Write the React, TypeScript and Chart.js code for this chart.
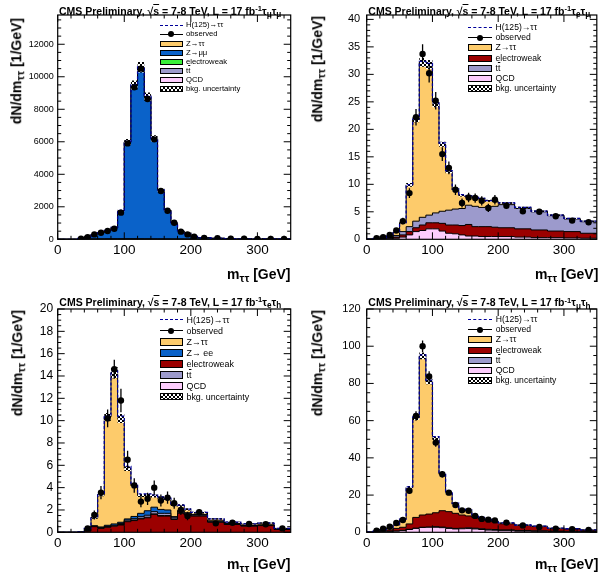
import React, { useEffect, useRef } from "react";
import { Chart, registerables } from "chart.js";

Chart.register(...registerables);

const FONT = "'Liberation Sans', Arial, Helvetica, sans-serif";

// ---------------- colours ----------------
const COL_ZTT = "#fdcb6b";
const COL_ZLL = "#0a62c9";
const COL_EWK = "#9b0000";
const COL_EWK_MM = "#39f039";
const COL_TT = "#9c9acc";
const COL_QCD = "#fdcdfd";
const COL_SIG = "#000099";

// ---------------- binning (GeV) ----------------
const EDGES_MM = [0, 10, 20, 30, 40, 50, 60, 70, 80, 90, 100, 110, 120, 130, 140, 150, 160, 170, 180, 190, 200, 210, 230, 250, 270, 290, 310, 330, 350];
const EDGES = [0, 10, 20, 30, 40, 50, 60, 70, 80, 90, 100, 110, 120, 130, 140, 150, 160, 170, 180, 190, 200, 225, 250, 275, 300, 325, 350];
const X_TICKS = [0, 100, 200, 300];
const X_MAX = 350;

// ---------------- panel 1 : tau_mu tau_mu ----------------
const MM_QCD = [0, 0, 0, 2, 4, 6, 8, 10, 10, 10, 10, 8, 6, 5, 4, 3, 3, 2, 2, 1, 1, 1, 1, 0, 0, 0, 0, 0];
const MM_TT = [0, 0, 0, 0, 1, 1, 2, 2, 3, 3, 4, 5, 6, 6, 6, 6, 5, 5, 4, 4, 3, 3, 2, 2, 1, 1, 1, 1];
const MM_EWK = [0, 0, 0, 1, 2, 3, 4, 5, 5, 6, 8, 10, 10, 9, 8, 7, 6, 5, 4, 3, 3, 2, 2, 1, 1, 1, 1, 1];
const MM_ZMM = [0, 0, 0, 40, 130, 280, 380, 500, 680, 1720, 5950, 9450, 10550, 8750, 6180, 3000, 1780, 1000, 500, 320, 170, 90, 60, 40, 30, 25, 20, 15];
const MM_ZTT = [0, 0, 0, 5, 10, 15, 20, 25, 30, 25, 20, 15, 10, 8, 6, 5, 4, 3, 2, 2, 1, 1, 1, 0, 0, 0, 0, 0];
const MM_SIG = [0, 0, 0, 0, 0, 1, 2, 4, 8, 15, 25, 30, 30, 25, 20, 12, 8, 5, 3, 2, 1, 1, 0, 0, 0, 0, 0, 0];
const MM_OBS = [null, null, null, 30, 130, 300, 400, 510, 650, 1640, 5900, 9350, 10500, 8630, 6150, 2970, 1760, 1020, 470, 300, 160, 90, 60, 40, 30, 25, 15, 15];
const MM_ERR = [0, 0, 0, 6, 11, 17, 20, 23, 26, 40, 77, 97, 102, 93, 78, 55, 42, 32, 22, 17, 13, 7, 5, 4, 4, 3, 3, 3];
const MM_UNC = [0, 0, 0, 2, 5, 10, 12, 15, 20, 50, 180, 280, 320, 260, 190, 100, 60, 35, 20, 12, 8, 5, 3, 2, 2, 1, 1, 1];
const MM_YTICKS = [0, 2000, 4000, 6000, 8000, 10000, 12000];

// ---------------- panel 2 : tau_e tau_mu ----------------
const EM_QCD = [0, 0.02, 0.05, 0.1, 0.2, 0.4, 0.8, 1.4, 1.6, 1.9, 1.9, 1.5, 1.1, 1.0, 0.8, 0.6, 0.6, 0.5, 0.5, 0.5, 0.5, 0.4, 0.3, 0.3, 0.25, 0.2];
const EM_EWK = [0.02, 0.03, 0.05, 0.1, 0.2, 0.4, 0.6, 0.7, 1.0, 1.1, 1.1, 1.4, 1.5, 1.6, 1.7, 2.1, 1.7, 1.8, 1.8, 1.7, 1.6, 1.5, 1.4, 1.2, 1.15, 0.9];
const EM_TT = [0.01, 0.05, 0.1, 0.15, 0.3, 0.6, 0.9, 1.2, 1.4, 1.4, 1.8, 2.2, 2.7, 2.9, 3.1, 3.5, 3.7, 3.5, 3.6, 3.8, 4.2, 3.7, 3.3, 2.8, 2.3, 2.1];
const EM_ZTT = [0.02, 0.05, 0.1, 0.25, 0.6, 1.6, 7.6, 18.5, 28.2, 27.4, 19.8, 12.2, 7.0, 3.5, 2.4, 1.6, 1.6, 1.6, 1.1, 1.0, 0.3, 0.2, 0.1, 0.1, 0.1, 0.1];
const EM_SIG = [0, 0, 0, 0, 0.01, 0.03, 0.06, 0.1, 0.15, 0.2, 0.22, 0.22, 0.2, 0.15, 0.12, 0.08, 0.06, 0.04, 0.03, 0.02, 0.02, 0.01, 0.01, 0, 0, 0];
const EM_OBS = [null, 0.2, 0.4, 0.8, 1.6, 3.3, 8.4, 22.2, 33.7, 30.2, 25.2, 15.5, 13.0, 9.0, 6.6, 7.6, 7.5, 7.0, 5.7, 7.2, 6.1, 5.1, 5.0, 4.2, 3.4, 3.1];
const EM_ERR = [0, 0.15, 0.2, 0.3, 0.4, 0.6, 0.9, 1.5, 1.8, 1.7, 1.6, 1.25, 1.15, 0.95, 0.8, 0.85, 0.85, 0.85, 0.75, 0.85, 0.5, 0.45, 0.45, 0.4, 0.37, 0.35];
const EM_UNC = [0.01, 0.02, 0.03, 0.05, 0.08, 0.15, 0.35, 0.5, 0.8, 0.8, 0.6, 0.45, 0.3, 0.25, 0.2, 0.2, 0.2, 0.18, 0.18, 0.18, 0.15, 0.13, 0.12, 0.1, 0.09, 0.08];
const EM_YTICKS = [0, 5, 10, 15, 20, 25, 30, 35, 40];

// ---------------- panel 3 : tau_e tau_h ----------------
const ET_EWK = [0, 0, 0, 0.02, 0.1, 0.5, 0.35, 0.45, 0.55, 0.65, 0.95, 1.05, 1.2, 1.3, 1.6, 1.45, 1.45, 1.15, 1.7, 1.55, 1.45, 0.9, 0.7, 0.55, 0.6, 0.25];
const ET_QCD = [0, 0, 0, 0, 0, 0.02, 0.03, 0.03, 0.03, 0.05, 0.05, 0.05, 0.05, 0.05, 0.05, 0.05, 0.05, 0.05, 0.05, 0.03, 0.03, 0.02, 0.02, 0.01, 0.01, 0.01];
const ET_TT = [0, 0, 0, 0, 0, 0.02, 0.03, 0.05, 0.05, 0.08, 0.1, 0.12, 0.15, 0.18, 0.2, 0.2, 0.2, 0.15, 0.15, 0.12, 0.1, 0.08, 0.05, 0.04, 0.04, 0.02];
const ET_ZEE = [0, 0, 0, 0, 0, 0.05, 0.07, 0.1, 0.12, 0.12, 0.1, 0.2, 0.3, 0.4, 0.4, 0.35, 0.3, 0.05, 0.05, 0.05, 0.03, 0.02, 0.02, 0.01, 0.01, 0.01];
const ET_ZTT = [0, 0, 0, 0, 0.25, 0.7, 2.9, 9.7, 13.55, 9.3, 4.5, 2.75, 1.6, 1.4, 1.0, 1.05, 1.0, 1.05, 0.45, 0.3, 0.15, 0.18, 0.11, 0.14, 0.17, 0.06];
const ET_SIG = [0, 0, 0, 0, 0, 0.02, 0.05, 0.1, 0.15, 0.2, 0.2, 0.2, 0.15, 0.12, 0.1, 0.08, 0.05, 0.04, 0.03, 0.02, 0.02, 0.01, 0.01, 0, 0, 0];
const ET_OBS = [null, null, null, null, 0.35, 1.55, 3.55, 10.2, 14.6, 11.8, 6.5, 4.2, 2.75, 3.0, 4.0, 2.85, 3.1, 2.6, 2.0, 1.45, 1.8, 0.8, 0.85, 0.75, 0.72, 0.35];
const ET_ERR = [0, 0, 0, 0, 0.2, 0.4, 0.6, 0.8, 0.85, 1.05, 0.8, 0.65, 0.5, 0.55, 0.63, 0.53, 0.55, 0.5, 0.45, 0.38, 0.27, 0.18, 0.18, 0.17, 0.17, 0.12];
const ET_UNC = [0, 0, 0, 0, 0.03, 0.08, 0.15, 0.35, 0.5, 0.4, 0.2, 0.15, 0.13, 0.13, 0.13, 0.13, 0.12, 0.12, 0.12, 0.1, 0.07, 0.06, 0.05, 0.04, 0.04, 0.02];
const ET_YTICKS = [0, 2, 4, 6, 8, 10, 12, 14, 16, 18, 20];

// ---------------- panel 4 : tau_mu tau_h ----------------
const MT_QCD = [0, 0.1, 0.3, 0.3, 0.6, 0.9, 1.5, 2.1, 2.6, 2.7, 2.7, 2.5, 2.1, 1.8, 1.9, 2.0, 1.8, 1.5, 1.2, 1.1, 0.9, 0.6, 0.5, 0.4, 0.3, 0.2];
const MT_TT = [0, 0.02, 0.03, 0.05, 0.05, 0.1, 0.1, 0.1, 0.1, 0.1, 0.3, 0.3, 0.3, 0.3, 0.3, 0.4, 0.4, 0.4, 0.4, 0.4, 0.4, 0.4, 0.3, 0.25, 0.2, 0.15];
const MT_EWK = [0.1, 0.3, 0.55, 0.85, 1.45, 1.7, 2.9, 5.8, 6.6, 7.0, 7.5, 8.8, 8.7, 8.1, 7.1, 6.4, 5.7, 5.1, 4.7, 4.2, 3.3, 2.7, 2.3, 1.35, 1.3, 0.75];
const MT_ZTT = [0.1, 0.3, 0.6, 1.3, 1.9, 4.3, 19.7, 53.6, 85.5, 71.2, 40.0, 19.6, 9.9, 4.8, 2.7, 2.8, 0.9, 0.9, 0.5, 0.3, 0.4, 0.2, 0.2, 0.2, 0.1, 0.2];
const MT_SIG = [0, 0, 0, 0, 0.05, 0.1, 0.2, 0.4, 0.6, 0.8, 0.9, 0.9, 0.8, 0.6, 0.4, 0.3, 0.2, 0.15, 0.1, 0.08, 0.05, 0.03, 0.02, 0.01, 0.01, 0];
const MT_OBS = [null, 0.8, 2.0, 3.0, 5.0, 6.6, 22.3, 62.5, 100.0, 83.7, 48.2, 31.2, 21.3, 14.7, 11.8, 11.6, 8.8, 7.2, 6.8, 6.4, 5.2, 3.7, 2.9, 2.0, 1.6, 1.3];
const MT_ERR = [0, 0.3, 0.45, 0.55, 0.7, 0.8, 1.5, 2.5, 3.1, 2.9, 2.2, 1.75, 1.45, 1.2, 1.1, 1.1, 0.95, 0.85, 0.8, 0.8, 0.45, 0.4, 0.35, 0.28, 0.25, 0.23];
const MT_UNC = [0.02, 0.05, 0.08, 0.1, 0.15, 0.25, 0.7, 1.2, 1.8, 1.5, 1.0, 0.7, 0.5, 0.4, 0.35, 0.35, 0.3, 0.25, 0.22, 0.2, 0.15, 0.12, 0.1, 0.08, 0.07, 0.05];
const MT_YTICKS = [0, 20, 40, 60, 80, 100, 120];

// ---------------- text helpers ----------------
const subS: React.CSSProperties = { fontSize: "0.78em", position: "relative", top: "0.3em", verticalAlign: "baseline", lineHeight: 0 };
const supS: React.CSSProperties = { fontSize: "0.72em", position: "relative", top: "-0.5em", verticalAlign: "baseline", lineHeight: 0 };
const Sub = ({ children }: any) => <span style={subS}>{children}</span>;
const Sup = ({ children }: any) => <span style={supS}>{children}</span>;
const Bar = ({ children }: any) => <span style={{ textDecoration: "overline" }}>{children}</span>;
const TTBAR = <>t<Bar>t</Bar></>;
const CHECKER_CSS = "repeating-conic-gradient(#000 0% 25%, #fff 0% 50%) 0 0 / 4px 4px";

type Entry = { kind: string; color?: string; label: any };

const E_SIG: Entry = { kind: "dash", label: <>H(125)→ττ</> };
const E_OBS: Entry = { kind: "marker", label: "observed" };
const E_ZTT: Entry = { kind: "box", color: COL_ZTT, label: "Z→ττ" };
const E_EWK: Entry = { kind: "box", color: COL_EWK, label: "electroweak" };
const E_TT: Entry = { kind: "box", color: COL_TT, label: TTBAR };
const E_QCD: Entry = { kind: "box", color: COL_QCD, label: "QCD" };
const E_UNC: Entry = { kind: "hatch", label: "bkg. uncertainty" };

const PANELS = [
  {
    left: 0, top: 0, w: 300, h: 290,
    area: { l: 57.7, t: 15, r: 290.7, b: 239.3 },
    edges: EDGES_MM,
    layers: [
      { values: MM_QCD, color: COL_QCD },
      { values: MM_TT, color: COL_TT },
      { values: MM_EWK, color: COL_EWK_MM },
      { values: MM_ZMM, color: COL_ZLL },
      { values: MM_ZTT, color: COL_ZTT },
    ],
    sig: MM_SIG, obs: MM_OBS, err: MM_ERR, unc: MM_UNC,
    yMax: 13800, yTicks: MM_YTICKS, yStep: 2000, yMinor: 500, yFont: 9, yPad: 4,
    chan: ["μ", "μ"],
    title: { x: 59, cy: 10.5 },
    ytitle: { x: 9.3, top: 17.5 },
    xtitle: { right: 290.5, cy: 274 },
    legend: {
      boxX: 159.5, boxW: 23, boxH: 6, textX: 186, y0: 25.3, dy: 9.15, font: 7.7,
      entries: [E_SIG, E_OBS, E_ZTT, { kind: "box", color: COL_ZLL, label: "Z→μμ" }, { kind: "box", color: COL_EWK_MM, label: "electroweak" }, E_TT, E_QCD, E_UNC],
    },
  },
  {
    left: 300, top: 0, w: 300, h: 290,
    area: { l: 66.7, t: 15, r: 299.3, b: 239.3 },
    edges: EDGES,
    layers: [
      { values: EM_QCD, color: COL_QCD },
      { values: EM_EWK, color: COL_EWK },
      { values: EM_TT, color: COL_TT },
      { values: EM_ZTT, color: COL_ZTT },
    ],
    sig: EM_SIG, obs: EM_OBS, err: EM_ERR, unc: EM_UNC,
    yMax: 40.8, yTicks: EM_YTICKS, yStep: 5, yMinor: 1, yFont: 11, yPad: 6.5,
    chan: ["e", "μ"],
    title: { x: 68.3, cy: 10.5 },
    ytitle: { x: 10, top: 16 },
    xtitle: { right: 298.3, cy: 274.5 },
    legend: {
      boxX: 168, boxW: 23.5, boxH: 7, textX: 195.5, y0: 27.5, dy: 10.2, font: 8.6,
      entries: [E_SIG, E_OBS, E_ZTT, E_EWK, E_TT, E_QCD, E_UNC],
    },
  },
  {
    left: 0, top: 290, w: 300, h: 291,
    area: { l: 57.7, t: 19, r: 290.7, b: 242.3 },
    edges: EDGES,
    layers: [
      { values: ET_EWK, color: COL_EWK },
      { values: ET_QCD, color: COL_QCD },
      { values: ET_TT, color: COL_TT },
      { values: ET_ZEE, color: COL_ZLL },
      { values: ET_ZTT, color: COL_ZTT },
    ],
    sig: ET_SIG, obs: ET_OBS, err: ET_ERR, unc: ET_UNC,
    yMax: 20, yTicks: ET_YTICKS, yStep: 2, yMinor: 0.5, yFont: 12, yPad: 4.5,
    chan: ["e", "h"],
    title: { x: 59.3, cy: 12 },
    ytitle: { x: 10, top: 20 },
    xtitle: { right: 290.5, cy: 274.5 },
    legend: {
      boxX: 159.5, boxW: 23, boxH: 7.5, textX: 186.5, y0: 30, dy: 10.96, font: 8.9,
      entries: [E_SIG, E_OBS, E_ZTT, { kind: "box", color: COL_ZLL, label: "Z→ ee" }, E_EWK, E_TT, E_QCD, E_UNC],
    },
  },
  {
    left: 300, top: 290, w: 300, h: 291,
    area: { l: 66.7, t: 19, r: 299.3, b: 242.3 },
    edges: EDGES,
    layers: [
      { values: MT_QCD, color: COL_QCD },
      { values: MT_TT, color: COL_TT },
      { values: MT_EWK, color: COL_EWK },
      { values: MT_ZTT, color: COL_ZTT },
    ],
    sig: MT_SIG, obs: MT_OBS, err: MT_ERR, unc: MT_UNC,
    yMax: 120, yTicks: MT_YTICKS, yStep: 20, yMinor: 5, yFont: 11, yPad: 6,
    chan: ["μ", "h"],
    title: { x: 68.3, cy: 12.3 },
    ytitle: { x: 10, top: 20 },
    xtitle: { right: 298.3, cy: 274.5 },
    legend: {
      boxX: 168, boxW: 23.5, boxH: 7, textX: 195.7, y0: 29.5, dy: 10.2, font: 8.6,
      entries: [E_SIG, E_OBS, E_ZTT, E_EWK, E_TT, E_QCD, E_UNC],
    },
  },
];

function makeChecker(): CanvasPattern | string {
  const c = document.createElement("canvas");
  c.width = 4;
  c.height = 4;
  const g = c.getContext("2d");
  if (!g) return "#000";
  g.fillStyle = "#fff";
  g.fillRect(0, 0, 4, 4);
  g.fillStyle = "#000";
  g.fillRect(0, 0, 2, 2);
  g.fillRect(2, 2, 2, 2);
  const pat = g.createPattern(c, "repeat");
  return pat || "#000";
}

function buildChart(canvas: HTMLCanvasElement, p: any) {
  const edges: number[] = p.edges;
  const n = edges.length - 1;
  const cums: number[][] = [];
  let run = new Array(n).fill(0);
  for (const L of p.layers) {
    run = run.map((v: number, i: number) => v + L.values[i]);
    cums.push(run);
  }
  const total = run;
  const step = (vals: number[]) => {
    const pts = vals.map((v, i) => ({ x: edges[i], y: v }));
    pts.push({ x: edges[n], y: vals[n - 1] });
    return pts;
  };
  const obsPts: any[] = [];
  const errs: any[] = [];
  p.obs.forEach((v: number | null, i: number) => {
    if (v == null) return;
    const c = (edges[i] + edges[i + 1]) / 2;
    obsPts.push({ x: c, y: v });
    errs.push({ x: c, lo: v - p.err[i], hi: v + p.err[i] });
  });

  const base = { stepped: true, pointRadius: 0, pointHoverRadius: 0 };
  const datasets: any[] = [
    {
      data: obsPts, showLine: false, pointRadius: 3.2, pointHoverRadius: 3.2,
      pointBackgroundColor: "#000", pointBorderColor: "#000", pointBorderWidth: 0, fill: false,
    },
    {
      ...base, data: step(total.map((v, i) => v + p.sig[i])),
      borderColor: COL_SIG, borderWidth: 1.3, borderDash: [3, 2], fill: false,
    },
    {
      ...base, data: step(total.map((v, i) => v + p.unc[i])),
      borderColor: "rgba(0,0,0,0)", borderWidth: 1, fill: "+1", backgroundColor: makeChecker(),
    },
    {
      ...base, data: step(total.map((v, i) => Math.max(0, v - p.unc[i]))),
      borderColor: "rgba(0,0,0,0)", borderWidth: 1, fill: false,
    },
    ...cums.map((c, k) => ({
      ...base, data: step(c), borderColor: "#000", borderWidth: 1,
      backgroundColor: p.layers[k].color, fill: "origin",
    })),
  ];

  const framePlugin = {
    id: "rootFrame",
    afterDraw(chart: any) {
      const { ctx, chartArea: a, scales } = chart;
      const xs = scales.x;
      const ys = scales.y;
      ctx.save();
      ctx.strokeStyle = "#000";
      ctx.lineWidth = 1;
      ctx.beginPath();
      const X_MINOR = 20;
      const X_MAJOR = 100;
      for (let i = 0; i * X_MINOR <= X_MAX + 1e-9; i++) {
        const v = i * X_MINOR;
        const px = xs.getPixelForValue(v);
        const L = Math.abs(v / X_MAJOR - Math.round(v / X_MAJOR)) < 1e-6 ? 7 : 3.5;
        ctx.moveTo(px, a.bottom);
        ctx.lineTo(px, a.bottom - L);
        ctx.moveTo(px, a.top);
        ctx.lineTo(px, a.top + L);
      }
      for (let i = 0; i * p.yMinor <= p.yMax + 1e-9; i++) {
        const v = i * p.yMinor;
        const py = ys.getPixelForValue(v);
        const L = Math.abs(v / p.yStep - Math.round(v / p.yStep)) < 1e-6 ? 7 : 3.5;
        ctx.moveTo(a.left, py);
        ctx.lineTo(a.left + L, py);
        ctx.moveTo(a.right, py);
        ctx.lineTo(a.right - L, py);
      }
      ctx.stroke();
      ctx.lineWidth = 1.2;
      ctx.strokeRect(a.left, a.top, a.right - a.left, a.bottom - a.top);
      ctx.restore();
    },
  };

  const errPlugin = {
    id: "errBars",
    afterDatasetsDraw(chart: any) {
      const { ctx, chartArea: a, scales } = chart;
      ctx.save();
      ctx.beginPath();
      ctx.rect(a.left, a.top, a.right - a.left, a.bottom - a.top);
      ctx.clip();
      ctx.strokeStyle = "#000";
      ctx.lineWidth = 1.3;
      ctx.beginPath();
      for (const e of errs) {
        if (e.hi - e.lo <= 0) continue;
        const px = scales.x.getPixelForValue(e.x);
        ctx.moveTo(px, scales.y.getPixelForValue(Math.max(0, e.lo)));
        ctx.lineTo(px, scales.y.getPixelForValue(e.hi));
      }
      ctx.stroke();
      ctx.restore();
    },
  };

  const X_AXIS_H = 30;
  return new Chart(canvas, {
    type: "line",
    data: { datasets },
    plugins: [errPlugin, framePlugin],
    options: {
      responsive: false,
      animation: false,
      devicePixelRatio: 1,
      events: [],
      layout: {
        padding: { left: 0, top: p.area.t, right: p.w - p.area.r, bottom: p.h - p.area.b - X_AXIS_H },
      },
      plugins: { legend: { display: false }, title: { display: false }, tooltip: { enabled: false } },
      scales: {
        x: {
          type: "linear", min: 0, max: X_MAX,
          afterBuildTicks: (s: any) => { s.ticks = X_TICKS.map((v) => ({ value: v })); },
          afterFit: (s: any) => { s.height = X_AXIS_H; },
          grid: { display: false, drawTicks: false },
          border: { display: false },
          ticks: {
            autoSkip: false, maxRotation: 0, padding: 3,
            color: "#000", font: { family: FONT, size: 13.5 }, callback: (v: any) => String(v),
          },
        },
        y: {
          type: "linear", min: 0, max: p.yMax,
          afterBuildTicks: (s: any) => { s.ticks = p.yTicks.map((v: number) => ({ value: v })); },
          afterFit: (s: any) => { s.width = p.area.l; },
          grid: { display: false, drawTicks: false },
          border: { display: false },
          ticks: {
            autoSkip: false, padding: p.yPad,
            color: "#000", font: { family: FONT, size: p.yFont }, callback: (v: any) => String(v),
          },
        },
      },
    } as any,
  });
}

function Legend({ lg }: any) {
  return (
    <>
      {lg.entries.map((e: Entry, i: number) => {
        const cy = lg.y0 + i * lg.dy;
        let sym: any;
        if (e.kind === "dash") {
          sym = <div style={{ position: "absolute", left: lg.boxX, top: cy - 0.75, width: lg.boxW, height: 0, borderTop: `1.5px dashed ${COL_SIG}` }} />;
        } else if (e.kind === "marker") {
          sym = (
            <>
              <div style={{ position: "absolute", left: lg.boxX, top: cy - 0.75, width: lg.boxW, height: 0, borderTop: "1.5px solid #000" }} />
              <div style={{ position: "absolute", left: lg.boxX + lg.boxW / 2 - 3, top: cy - 3, width: 6, height: 6, borderRadius: "50%", background: "#000" }} />
            </>
          );
        } else {
          sym = (
            <div
              style={{
                position: "absolute", left: lg.boxX, top: cy - lg.boxH / 2, width: lg.boxW, height: lg.boxH,
                boxSizing: "border-box", border: "1px solid #000",
                background: e.kind === "hatch" ? CHECKER_CSS : e.color,
              }}
            />
          );
        }
        const lh = Math.round(lg.font * 1.3);
        return (
          <React.Fragment key={i}>
            {sym}
            <div style={{ position: "absolute", left: lg.textX, top: cy - lh / 2, height: lh, lineHeight: lh + "px", fontFamily: FONT, fontSize: lg.font, whiteSpace: "nowrap", color: "#000" }}>
              {e.label}
            </div>
          </React.Fragment>
        );
      })}
    </>
  );
}

function Panel({ p }: any) {
  const ref = useRef<HTMLCanvasElement>(null);
  useEffect(() => {
    if (!ref.current) return;
    const chart = buildChart(ref.current, p);
    return () => chart.destroy();
  }, [p]);
  return (
    <div style={{ position: "absolute", left: p.left, top: p.top, width: p.w, height: p.h }}>
      <canvas ref={ref} width={p.w} height={p.h} style={{ position: "absolute", left: 0, top: 0, width: p.w, height: p.h }} />
      <div style={{ position: "absolute", left: p.title.x, top: p.title.cy - 6, lineHeight: "12px", fontFamily: FONT, fontWeight: "bold", fontSize: 10.5, whiteSpace: "nowrap", color: "#000" }}>
        CMS Preliminary, √<Bar>s</Bar> = 7-8 TeV, L = 17 fb<Sup>-1</Sup>τ<Sub>{p.chan[0]}</Sub>τ<Sub>{p.chan[1]}</Sub>
      </div>
      <div style={{ position: "absolute", left: p.ytitle.x, top: p.ytitle.top, width: 0, height: 0 }}>
        <div style={{ position: "absolute", right: 0, top: 0, transformOrigin: "right top", transform: "rotate(-90deg)", whiteSpace: "nowrap", fontFamily: FONT, fontWeight: "bold", fontSize: 14, lineHeight: "15px", color: "#000" }}>
          dN/dm<Sub>ττ</Sub> [1/GeV]
        </div>
      </div>
      <div style={{ position: "absolute", right: p.w - p.xtitle.right, top: p.xtitle.cy - 7.5, lineHeight: "15px", fontFamily: FONT, fontWeight: "bold", fontSize: 14, whiteSpace: "nowrap", color: "#000" }}>
        m<Sub>ττ</Sub> [GeV]
      </div>
      <Legend lg={p.legend} />
    </div>
  );
}

export default function App() {
  return (
    <div style={{ position: "absolute", left: 0, top: 0, width: 600, height: 581, background: "#fff", overflow: "hidden" }}>
      {PANELS.map((p, i) => (
        <Panel key={i} p={p} />
      ))}
    </div>
  );
}
